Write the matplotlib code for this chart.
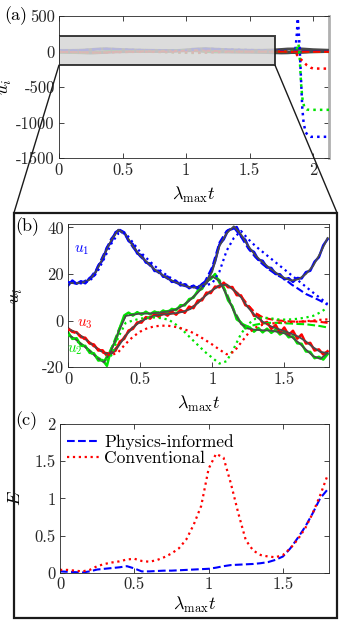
import numpy as np
import matplotlib
matplotlib.use("Agg")
import matplotlib.pyplot as plt
from matplotlib.patches import Rectangle, ConnectionPatch
from matplotlib.ticker import FuncFormatter

plt.rcParams['font.family'] = 'serif'
plt.rcParams['font.serif'] = ['cmr10']
plt.rcParams['mathtext.fontset'] = 'cm'
plt.rcParams['axes.unicode_minus'] = False

BLUE = '#0000ff'
RED = '#ff0000'
GREEN = '#00e400'
TRUTH = '#4a4a4a'

# ---------------- data ----------------
t = np.round(np.arange(0, 1.8001, 0.05), 2)

# true trajectories
true_u1 = [16.2, 16.0, 16.3, 17.5, 21.5, 28.0, 34.5, 39.0, 37.0, 32.0, 28.0, 25.0, 22.0, 19.8, 17.8, 16.4,
           15.2, 14.3, 14.2, 15.8, 21.0, 32.0, 37.5, 40.5, 37.0, 32.0, 28.0, 25.0, 22.5, 20.2, 18.3, 17.2,
           17.8, 20.0, 23.5, 29.0, 35.5]
true_u2 = [-6.0, -8.0, -10.5, -13.0, -16.0, -18.0, -13.0, -5.0, 2.0, 2.5, 3.0, 3.0, 3.2, 3.5, 4.0, 4.8,
           6.5, 9.0, 12.0, 15.5, 19.0, 17.0, 11.0, 4.0, -1.5, -3.5, -4.0, -4.2, -4.3, -4.8, -5.5, -7.0,
           -9.5, -12.5, -15.3, -16.5, -14.0]
true_u3 = [-3.5, -5.0, -7.0, -9.5, -12.0, -14.0, -14.5, -11.0, -6.5, -3.0, -0.5, 1.0, 2.0, 2.5, 2.8, 3.2,
           3.8, 5.0, 7.5, 10.5, 13.0, 15.0, 15.5, 13.0, 10.0, 5.5, 2.0, -0.5, -2.3, -3.5, -4.5, -5.7,
           -7.0, -9.0, -11.5, -13.5, -14.0]

# physics-informed prediction
phys_u1 = [16.4, 16.1, 16.5, 18.0, 22.2, 28.8, 35.2, 39.0, 36.6, 31.5, 27.6, 24.7, 21.8, 19.6, 17.6, 16.2,
           15.0, 14.2, 14.4, 16.8, 23.0, 33.5, 38.5, 40.0, 36.0, 31.0, 27.2, 24.2, 21.7, 19.5, 18.0, 15.5,
           13.5, 11.4, 10.0, 8.5, 6.8]
phys_u2 = [-6.2, -8.1, -10.4, -12.8, -15.6, -17.5, -12.2, -4.2, 2.2, 2.8, 3.1, 3.2, 3.4, 3.7, 4.2, 5.0,
           6.6, 9.1, 12.2, 15.8, 19.2, 17.5, 11.8, 4.5, -1.2, -2.6, -1.8, -1.2, -1.0, -1.0, -1.2, -1.3,
           -1.5, -1.6, -2.0, -2.4, -3.0]
phys_u3 = [-3.6, -5.1, -7.1, -9.4, -11.8, -13.8, -14.2, -10.6, -6.2, -2.8, -0.4, 1.1, 2.1, 2.6, 2.9, 3.3,
           3.9, 5.2, 7.7, 10.7, 13.2, 15.1, 15.4, 13.2, 10.5, 6.5, 3.2, 1.4, 0.6, 0.1, -0.2, -0.4,
           -0.5, -0.4, -0.3, -0.6, -1.0]

# conventional prediction
conv_u1 = [16.5, 16.0, 16.0, 17.0, 20.5, 26.5, 33.0, 37.5, 37.5, 33.5, 29.5, 26.5, 23.5, 21.0, 18.8, 17.0,
           15.8, 14.8, 14.3, 15.0, 16.0, 21.0, 30.0, 35.5, 38.5, 35.0, 32.0, 29.5, 27.0, 24.5, 22.0, 19.5,
           17.0, 14.5, 12.0, 9.6, 7.1]
conv_u2 = [-6.0, -8.3, -10.8, -13.3, -16.0, -17.5, -15.0, -7.0, -1.0, 0.0, 0.8, 1.2, 1.3, 1.0, 0.3, -1.8,
           -4.4, -7.5, -10.5, -13.5, -16.0, -18.5, -17.5, -12.0, -5.7, -1.5, 0.8, 1.3, 1.0, 0.5, 0.4, 0.5,
           0.8, 1.3, 2.0, 3.5, 5.6]
conv_u3 = [-3.8, -5.3, -7.3, -9.7, -12.0, -14.0, -15.0, -13.5, -10.0, -7.0, -4.8, -3.3, -2.5, -2.2, -2.3, -2.8,
           -3.6, -4.8, -6.4, -8.3, -10.3, -12.5, -14.5, -13.5, -9.5, -5.5, -3.0, -1.8, -1.4, -1.0, -0.8, -0.6,
           -0.5, -0.3, 0.0, 0.3, 0.5]

# noisy observations
t_obs = np.linspace(0, 1.8, 61)
obs_u1 = [15.0, 17.2, 15.8, 16.9, 16.0, 18.3, 19.2, 23.6, 25.9, 31.4, 33.8, 38.0, 38.9, 37.9, 34.2, 32.8,
          28.8, 28.1, 24.9, 24.5, 21.3, 21.4, 18.8, 18.9, 16.6, 17.0, 15.1, 15.6, 13.9, 15.0, 13.6, 15.8,
          16.0, 20.6, 25.4, 32.7, 34.9, 38.8, 39.4, 40.2, 36.3, 34.7, 30.5, 29.5, 26.1, 25.7, 22.8, 22.6,
          20.0, 19.9, 17.7, 18.2, 16.6, 18.3, 18.1, 20.8, 21.4, 25.3, 27.2, 32.3, 35.0]
obs_u2 = [-5.0, -7.9, -7.6, -10.8, -10.9, -13.9, -14.1, -17.2, -17.0, -19.5, -12.0, -9.0, -3.0, 2.2, 3.4, 2.1,
          3.6, 2.5, 3.8, 2.6, 3.9, 3.0, 4.3, 3.4, 5.0, 4.4, 6.6, 6.5, 9.2, 9.8, 12.8, 13.6,
          17.0, 17.8, 20.0, 16.3, 14.2, 8.7, 6.1, 0.5, -0.8, -3.4, -2.9, -4.8, -3.2, -5.1, -3.5, -5.3,
          -3.9, -6.0, -4.8, -7.2, -6.8, -9.8, -10.0, -13.3, -13.5, -16.2, -15.6, -16.8, -14.5]
obs_u3 = [-3.3, -4.9, -5.0, -7.2, -7.4, -9.9, -10.3, -12.9, -12.8, -15.2, -13.9, -13.0, -9.0, -7.9, -4.3, -3.6,
          -0.8, -0.9, 1.5, 0.8, 2.8, 1.6, 3.4, 2.1, 3.9, 2.5, 4.6, 3.3, 6.0, 5.3, 8.6, 8.7,
          12.0, 11.8, 14.6, 14.3, 16.3, 14.3, 14.4, 10.9, 10.8, 6.6, 5.7, 2.0, 2.4, -1.3, -0.6, -3.6,
          -1.9, -5.3, -3.0, -6.2, -4.4, -7.8, -6.0, -9.9, -9.6, -12.9, -12.4, -14.6, -13.2]

# long-time part for panel (a)
t_far = [1.9, 2.0, 2.125]
true_far_u1 = [38.0, 26.0, 18.0]
true_far_u2 = [-6.0, 6.0, 1.0]
true_far_u3 = [-9.0, -2.0, 3.0]
phys_far_u1 = [3.0, 0.0, -2.0]
phys_far_u2 = [-4.0, -5.0, -5.0]
phys_far_u3 = [-2.0, -3.0, -3.0]

conv_far_t1 = [1.86, 1.872, 1.879, 1.886, 1.895, 1.905, 1.915, 1.925, 1.94, 1.96, 1.98, 2.125]
conv_far_u1 = [5, 250, 470, 300, 20, -400, -800, -1000, -1130, -1185, -1200, -1200]
conv_far_t2 = [1.86, 1.875, 1.885, 1.895, 1.905, 1.915, 1.93, 1.95, 1.97, 2.125]
conv_far_u2 = [8, 60, 110, -100, -450, -650, -780, -815, -820, -820]
conv_far_t3 = [1.86, 1.875, 1.9, 1.92, 1.95, 1.98, 2.0, 2.125]
conv_far_u3 = [-5, -50, -100, -140, -190, -225, -238, -240]

# error
err_phys = [0.02, 0.015, 0.01, 0.005, 0.02, 0.045, 0.055, 0.065, 0.075, 0.09, 0.06, 0.02, 0.02, 0.025, 0.03, 0.03,
            0.035, 0.04, 0.045, 0.05, 0.055, 0.07, 0.09, 0.105, 0.11, 0.115, 0.12, 0.13, 0.145, 0.175, 0.22, 0.33,
            0.47, 0.62, 0.8, 1.0, 1.12]
err_conv = [0.04, 0.04, 0.03, 0.02, 0.04, 0.09, 0.12, 0.14, 0.155, 0.18, 0.19, 0.16, 0.15, 0.17, 0.21, 0.26,
            0.33, 0.45, 0.65, 0.9, 1.4, 1.6, 1.55, 1.2, 0.8, 0.44, 0.3, 0.24, 0.22, 0.21, 0.24, 0.33,
            0.45, 0.6, 0.8, 1.04, 1.31]

XLABEL = r'$\lambda_{\max}t$'
TICK_FS = 12
LABEL_FS = 13
fmt = FuncFormatter(lambda v, p: '%g' % v)


def style(ax):
    ax.tick_params(direction='in', top=True, right=True, length=3.5, width=0.6,
                   labelsize=TICK_FS, colors='#262626', pad=3)
    for s in ax.spines.values():
        s.set_linewidth(0.6)
        s.set_color('#262626')
    ax.xaxis.set_major_formatter(fmt)
    ax.yaxis.set_major_formatter(fmt)


fig = plt.figure(figsize=(3.39, 6.20), dpi=100)

# ---------------- panel (a) ----------------
ax_a = fig.add_axes([0.174, 0.745, 0.7965, 0.229])
colors = [BLUE, GREEN, RED]
trues = [true_u1, true_u2, true_u3]
physs = [phys_u1, phys_u2, phys_u3]
convs = [conv_u1, conv_u2, conv_u3]
obss = [obs_u1, obs_u2, obs_u3]
true_fars = [true_far_u1, true_far_u2, true_far_u3]
phys_fars = [phys_far_u1, phys_far_u2, phys_far_u3]
conv_far = [(conv_far_t1, conv_far_u1), (conv_far_t2, conv_far_u2), (conv_far_t3, conv_far_u3)]
t_all = list(t) + t_far
for c, tr, ph, cv, ob, trf, phf, (tcf, ucf) in zip(colors, trues, physs, convs, obss,
                                                    true_fars, phys_fars, conv_far):
    ax_a.plot(t_obs, ob, '-', color=c, lw=1.2, zorder=2)
    ax_a.plot(t_all, tr + trf, '-', color=TRUTH, lw=2.2, zorder=3)
    ax_a.plot(t_all, ph + phf, '--', color=c, lw=1.5, zorder=4)
    ax_a.plot(list(t) + tcf, cv + ucf, ':', color=c, lw=1.8, zorder=5)
ax_a.add_patch(Rectangle((0, -190), 1.7, 410, facecolor='#d6d6d6', alpha=0.85,
                         edgecolor='#1a1a1a', lw=1.4, zorder=6))
ax_a.set_xlim(0, 2.125)
ax_a.set_ylim(-1500, 500)
ax_a.set_xticks([0, 0.5, 1, 1.5, 2])
ax_a.set_yticks([-1500, -1000, -500, 0, 500])
style(ax_a)
ax_a.spines['right'].set_color('#b0b0b0')
ax_a.spines['right'].set_linewidth(2)
ax_a.set_xlabel(XLABEL, fontsize=LABEL_FS)
ax_a.xaxis.set_label_coords(0.5, -0.19)
ax_a.set_ylabel(r'$u_i$', fontsize=LABEL_FS)
ax_a.yaxis.set_label_coords(-0.165, 0.5)
fig.text(0.012, 0.99, '(a)', fontsize=LABEL_FS, va='top', ha='left')

# ---------------- panel (b) ----------------
ax_b = fig.add_axes([0.2006, 0.408, 0.7699, 0.2307])
for c, tr, ph, cv, ob in zip(colors, trues, physs, convs, obss):
    ax_b.plot(t_obs, ob, '-', color=c, lw=1.8, zorder=2)
    ax_b.plot(t, ph, '--', color=c, lw=1.5, zorder=3)
    ax_b.plot(t, tr, '-', color=TRUTH, lw=1.3, zorder=4)
    ax_b.plot(t, cv, ':', color=c, lw=1.6, zorder=5)
ax_b.text(0.04, 29.5, r'$u_1$', color=BLUE, fontsize=11)
ax_b.text(0.06, -2.5, r'$u_3$', color=RED, fontsize=11)
ax_b.text(-0.01, -13.5, r'$u_2$', color=GREEN, fontsize=11)
ax_b.set_xlim(0, 1.81)
ax_b.set_ylim(-20, 41.5)
ax_b.set_xticks([0, 0.5, 1, 1.5])
ax_b.set_yticks([-20, 0, 20, 40])
style(ax_b)
ax_b.set_xlabel(XLABEL, fontsize=LABEL_FS)
ax_b.xaxis.set_label_coords(0.5, -0.19)
ax_b.set_ylabel(r'$u_i$', fontsize=LABEL_FS)
ax_b.yaxis.set_label_coords(-0.165, 0.5)
fig.text(0.045, 0.65, '(b)', fontsize=LABEL_FS, va='top', ha='left')

# ---------------- panel (c) ----------------
ax_c = fig.add_axes([0.177, 0.076, 0.7935, 0.24])
ax_c.plot(t, err_phys, '--', color=BLUE, lw=1.5, label='Physics-informed')
ax_c.plot(t, err_conv, ':', color=RED, lw=1.6, label='Conventional')
ax_c.set_xlim(0, 1.81)
ax_c.set_ylim(0, 2)
ax_c.set_xticks([0, 0.5, 1, 1.5])
ax_c.set_yticks([0, 0.5, 1, 1.5, 2])
style(ax_c)
ax_c.set_xlabel(XLABEL, fontsize=LABEL_FS)
ax_c.xaxis.set_label_coords(0.5, -0.15)
ax_c.set_ylabel(r'$E$', fontsize=LABEL_FS)
ax_c.yaxis.set_label_coords(-0.138, 0.5)
ax_c.legend(loc='upper left', bbox_to_anchor=(0.026, 0.93), frameon=False, fontsize=12.5,
            borderpad=0, borderaxespad=0, handlelength=1.9, handletextpad=0.25, labelspacing=0.0)
fig.text(0.045, 0.337, '(c)', fontsize=LABEL_FS, va='top', ha='left')

# ---------------- zoom box and connectors ----------------
x0, y0, x1, y1 = 0.0413, 0.004, 0.994, 0.657
fig.add_artist(Rectangle((x0, y0), x1 - x0, y1 - y0, transform=fig.transFigure,
                         fill=False, edgecolor='#1a1a1a', lw=1.6))
for xa, xb in [(0, x0), (1.7, x1)]:
    con = ConnectionPatch(xyA=(xa, -190), coordsA='data', axesA=ax_a,
                          xyB=(xb, y1), coordsB='figure fraction',
                          color='#1a1a1a', lw=1.0)
    fig.add_artist(con)

fig.savefig('out.png', dpi=100)
